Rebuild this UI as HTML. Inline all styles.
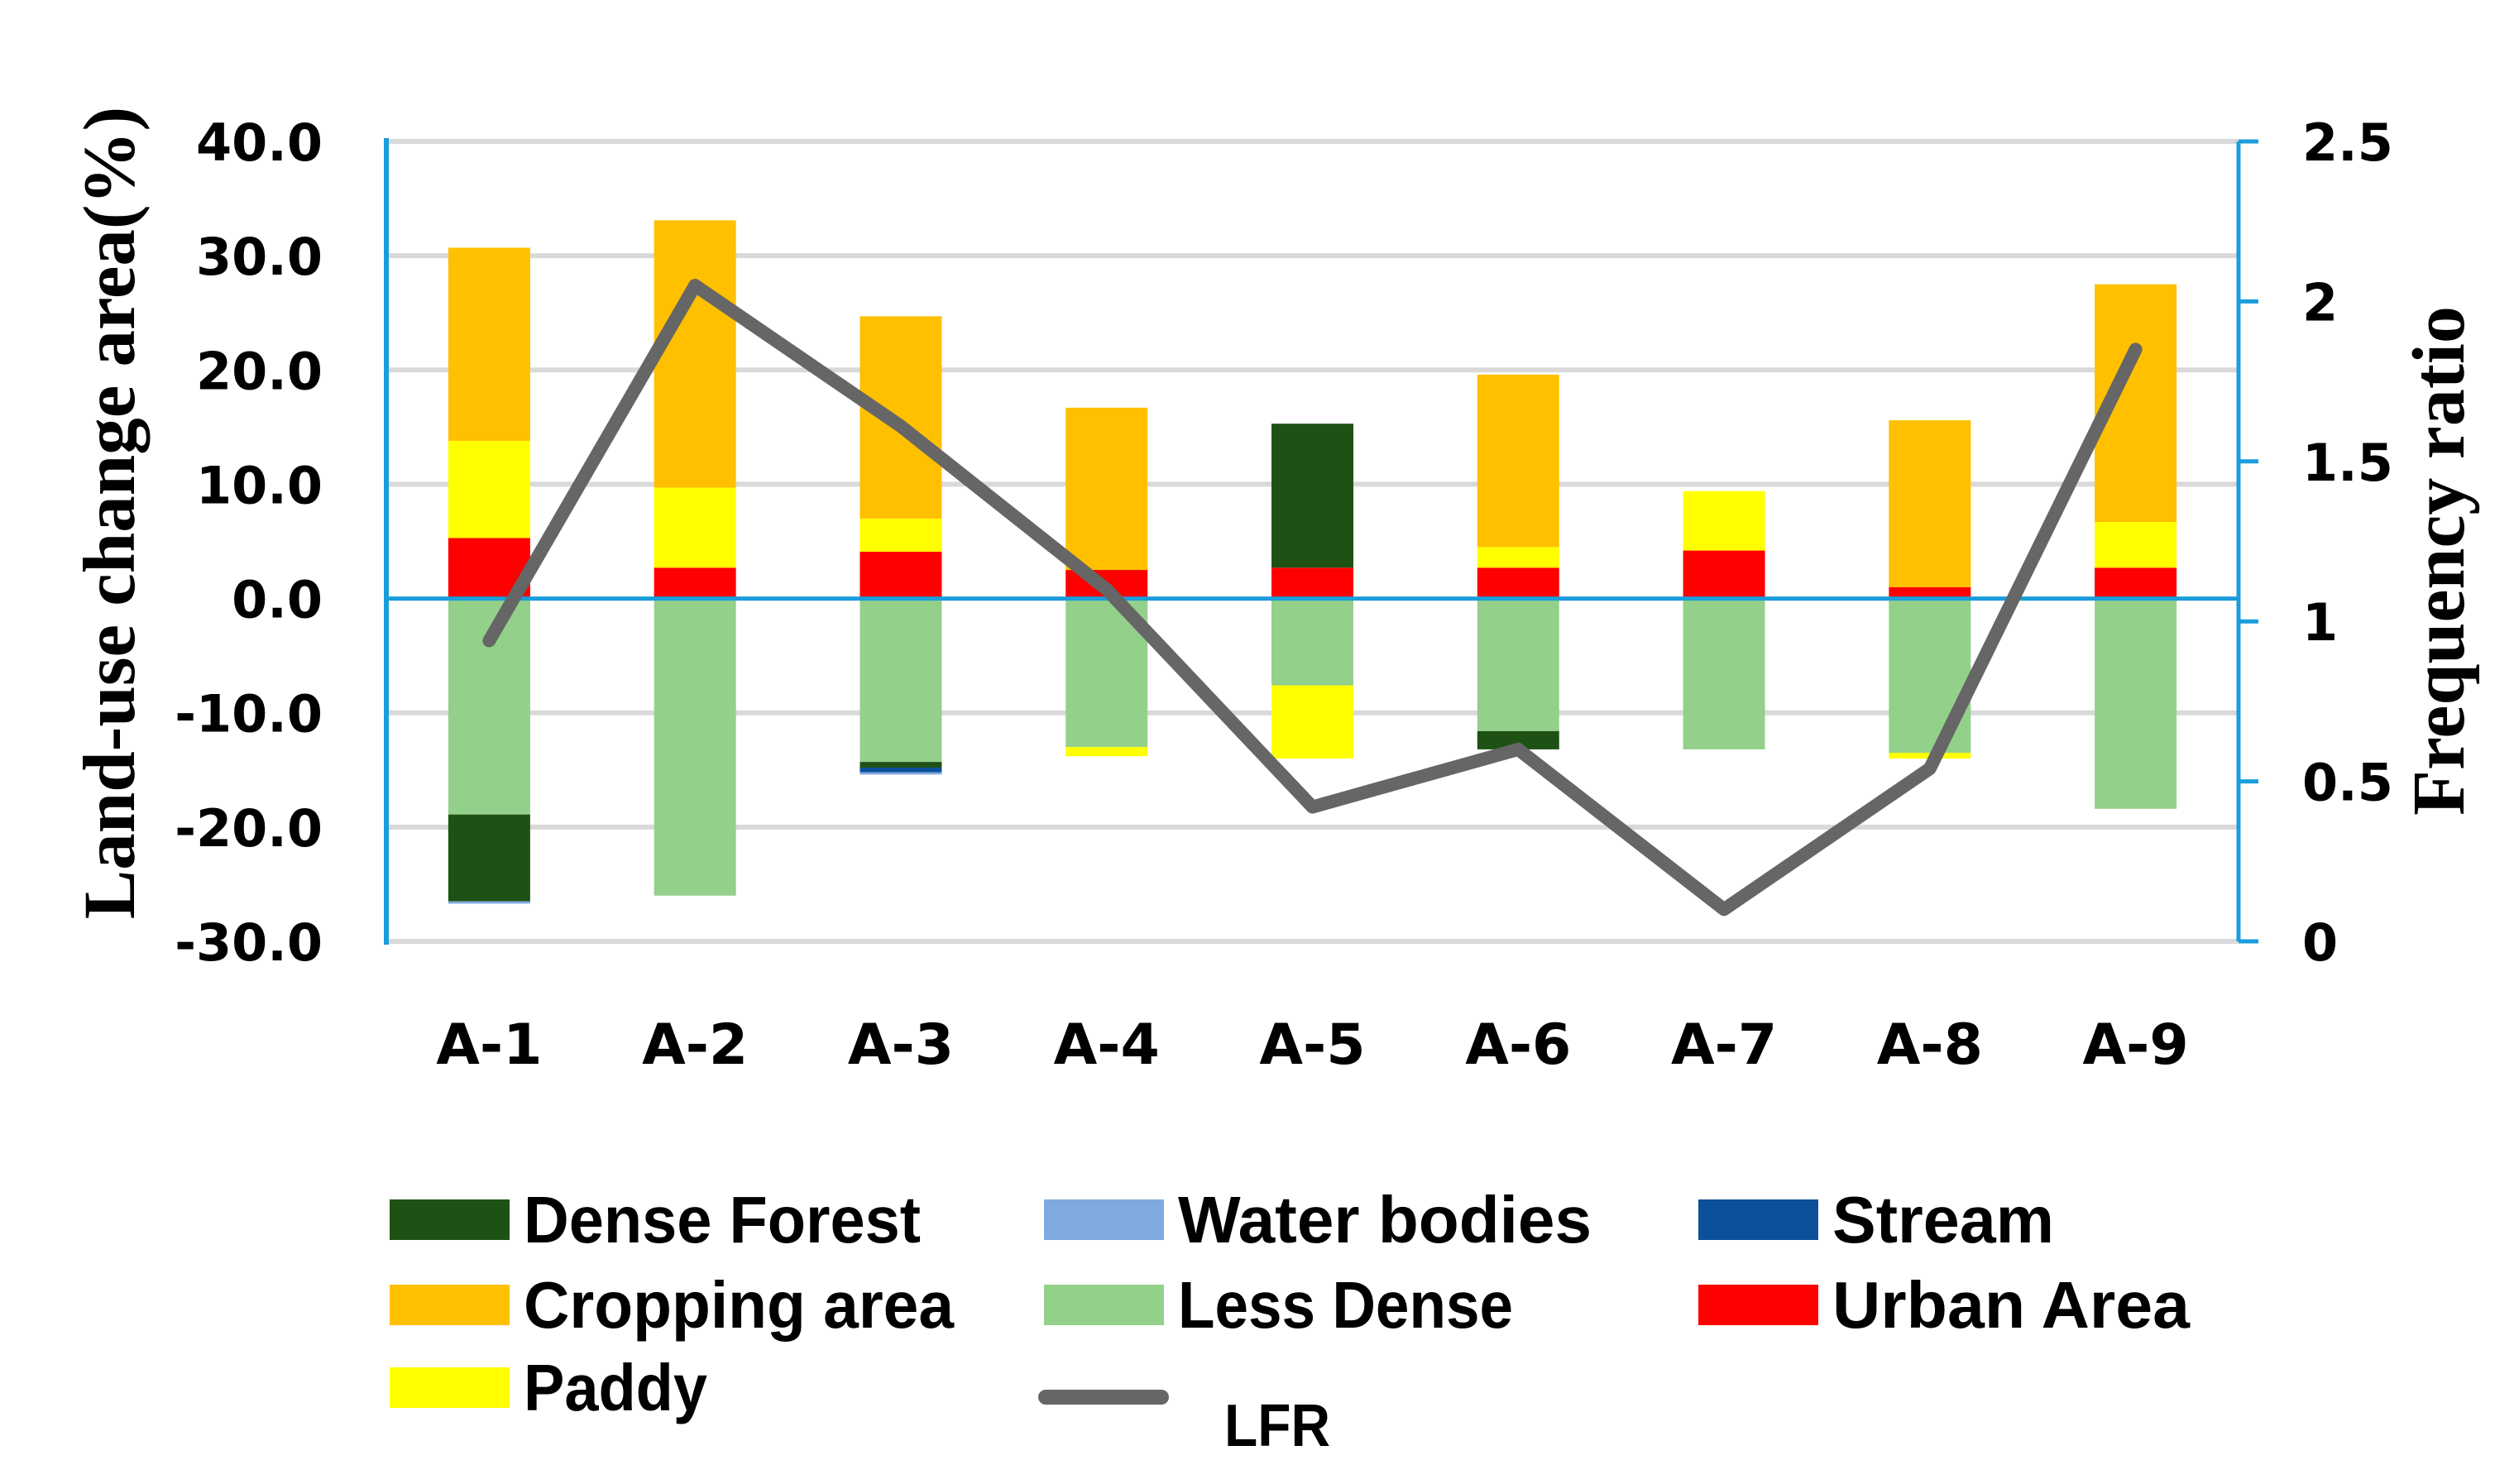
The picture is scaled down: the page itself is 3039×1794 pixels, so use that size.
<!DOCTYPE html>
<html><head><meta charset="utf-8"><style>
html,body{margin:0;padding:0;background:#fff;}
svg{display:block;}
.tick{font-family:"DejaVu Sans","Liberation Sans",sans-serif;font-weight:bold;font-size:62px;fill:#000;}
.leg{font-family:"Liberation Sans",sans-serif;font-weight:bold;font-size:80px;fill:#000;}
.title{font-family:"Liberation Serif",serif;font-weight:bold;font-size:89px;fill:#000;}
</style></head><body>
<svg id="chart" width="3039" height="1794" viewBox="0 0 3039 1794" xmlns="http://www.w3.org/2000/svg">
<g id="grid"></g>
<g id="bars"></g>
<g id="axes"></g>
<g id="line"></g>
<text class="title" transform="translate(162,620) rotate(-90)" text-anchor="middle">Land-use change area(%)</text>
<text class="title" transform="translate(2978,678) rotate(-90)" text-anchor="middle" style="font-size:90px">Frequency ratio</text>
<g id="legend"></g>
</svg>
<script>
const categories=["A-1","A-2","A-3","A-4","A-5","A-6","A-7","A-8","A-9"];
const urbanArea=[5.3,2.7,4.1,2.5,2.7,2.7,4.2,1.0,2.7];
const paddyPos=[8.5,7.0,2.9,0,0,1.8,5.2,0,4.0];
const croppingArea=[16.9,23.4,17.7,14.2,0,15.1,0,14.6,20.8];
const denseForestPos=[0,0,0,0,12.6,0,0,0,0];
const lessDense=[-18.9,-26.0,-14.3,-13.0,-7.6,-11.6,-13.2,-13.5,-18.4];
const denseForestNeg=[-7.6,0,-0.5,0,0,-1.6,0,0,0];
const paddyNeg=[0,0,0,-0.8,-6.4,0,0,-0.5,0];
const streamNeg=[0,0,-0.4,0,0,0,0,0,0];
const waterNeg=[-0.2,0,-0.2,0,0,0,0,0,0];
const lfr=[0.94,2.05,1.61,1.10,0.42,0.60,0.10,0.54,1.85];
const leftTicks=[40,30,20,10,0,-10,-20,-30];
const leftTickLabels=["40.0","30.0","20.0","10.0","0.0","-10.0","-20.0","-30.0"];
const rightTicks=[2.5,2,1.5,1,0.5,0];
const rightTickLabels=["2.5","2","1.5","1","0.5","0"];

const NS="http://www.w3.org/2000/svg";
const X0=467,X1=2706,TOP=171,BOT=1138;
const y=v=>TOP+(40-v)/70*(BOT-TOP);
const y2=v=>BOT-v/2.5*(BOT-TOP);
const band=(X1-X0)/categories.length;
const xc=i=>X0+band*(i+0.5);
const BW=99;
function mk(tag,attrs,parent){const e=document.createElementNS(NS,tag);for(const k in attrs)e.setAttribute(k,attrs[k]);parent.appendChild(e);return e;}
const grid=document.getElementById('grid'),bars=document.getElementById('bars'),axes=document.getElementById('axes'),line=document.getElementById('line'),legend=document.getElementById('legend');
leftTicks.forEach((t,i)=>{
 if(t!==0){const g=mk('line',{x1:X0,x2:X1,y1:y(t),y2:y(t),stroke:'#d9d9d9','stroke-width':6},grid);
 
 }
 const l=mk('text',{x:390,y:y(t)+23,'text-anchor':'end',class:'tick'},axes);l.textContent=leftTickLabels[i];
 
 
});
rightTicks.forEach((t,i)=>{
 const tk=mk('line',{x1:X1,x2:X1+24,y1:y2(t),y2:y2(t),stroke:'#1a9ddb','stroke-width':5},axes);
 
 
 const l=mk('text',{x:2783,y:y2(t)+23,class:'tick'},axes);l.textContent=rightTickLabels[i];
 
 
});
const series=[
 {d:urbanArea,c:'#ff0000',n:'urban-area'},
 {d:paddyPos,c:'#ffff00',n:'paddy'},
 {d:croppingArea,c:'#ffc000',n:'cropping-area'},
 {d:denseForestPos,c:'#1e5214',n:'dense-forest'},
 {d:lessDense,c:'#93d18a',n:'less-dense'},
 {d:denseForestNeg,c:'#1e5214',n:'dense-forest'},
 {d:paddyNeg,c:'#ffff00',n:'paddy'},
 {d:streamNeg,c:'#0b5099',n:'stream'},
 {d:waterNeg,c:'#7faadf',n:'water-bodies'}];
categories.forEach((c,i)=>{
 let pos=0,neg=0;
 series.forEach(s=>{
  const v=s.d[i]; if(!v) return;
  let a,b; if(v>0){a=pos;b=pos+v;pos=b;}else{a=neg;b=neg+v;neg=b;}
  const r=mk('rect',{x:xc(i)-BW/2,y:Math.min(y(a),y(b)),width:BW,height:Math.abs(y(a)-y(b)),fill:s.c},bars);
  
  
 });
 const l=mk('text',{x:xc(i),y:1286,'text-anchor':'middle',class:'tick',style:'font-size:68px'},axes);l.textContent=c;
 
 
});
const zl=mk('line',{x1:X0,x2:X1,y1:y(0),y2:y(0),stroke:'#1a9ddb','stroke-width':5},axes);


const la=mk('line',{x1:X0,x2:X0,y1:TOP-4,y2:BOT+4,stroke:'#1a9ddb','stroke-width':6},axes);


const ra=mk('line',{x1:X1,x2:X1,y1:TOP,y2:BOT,stroke:'#1a9ddb','stroke-width':5},axes);


const pl=mk('polyline',{points:lfr.map((v,i)=>xc(i)+','+y2(v)).join(' '),fill:'none',stroke:'#666666','stroke-width':16,'stroke-linejoin':'round','stroke-linecap':'round'},line);


const legItems=[
 {t:'Dense Forest',c:'#1e5214',x:471,y:1450,w:480},
 {t:'Water bodies',c:'#7faadf',x:1262,y:1450,w:500},
 {t:'Stream',c:'#0b5099',x:2053,y:1450,w:268},
 {t:'Cropping area',c:'#ffc000',x:471,y:1553,w:520},
 {t:'Less Dense',c:'#93d18a',x:1262,y:1553,w:405},
 {t:'Urban Area',c:'#ff0000',x:2053,y:1553,w:432},
 {t:'Paddy',c:'#ffff00',x:471,y:1653,w:222}];
legItems.forEach(it=>{
 const r=mk('rect',{x:it.x,y:it.y,width:145,height:49,fill:it.c},legend);
 
 
 const t=mk('text',{x:it.x+162,y:it.y+52,class:'leg',textLength:it.w,lengthAdjust:'spacingAndGlyphs'},legend);t.textContent=it.t;
 
 
});
const ll=mk('line',{x1:1264,x2:1404,y1:1689,y2:1689,stroke:'#666666','stroke-width':18,'stroke-linecap':'round'},legend);


const lt=mk('text',{x:1480,y:1748,class:'leg',style:'font-size:72px',textLength:128,lengthAdjust:'spacingAndGlyphs'},legend);lt.textContent='LFR';


</script>
</body></html>
